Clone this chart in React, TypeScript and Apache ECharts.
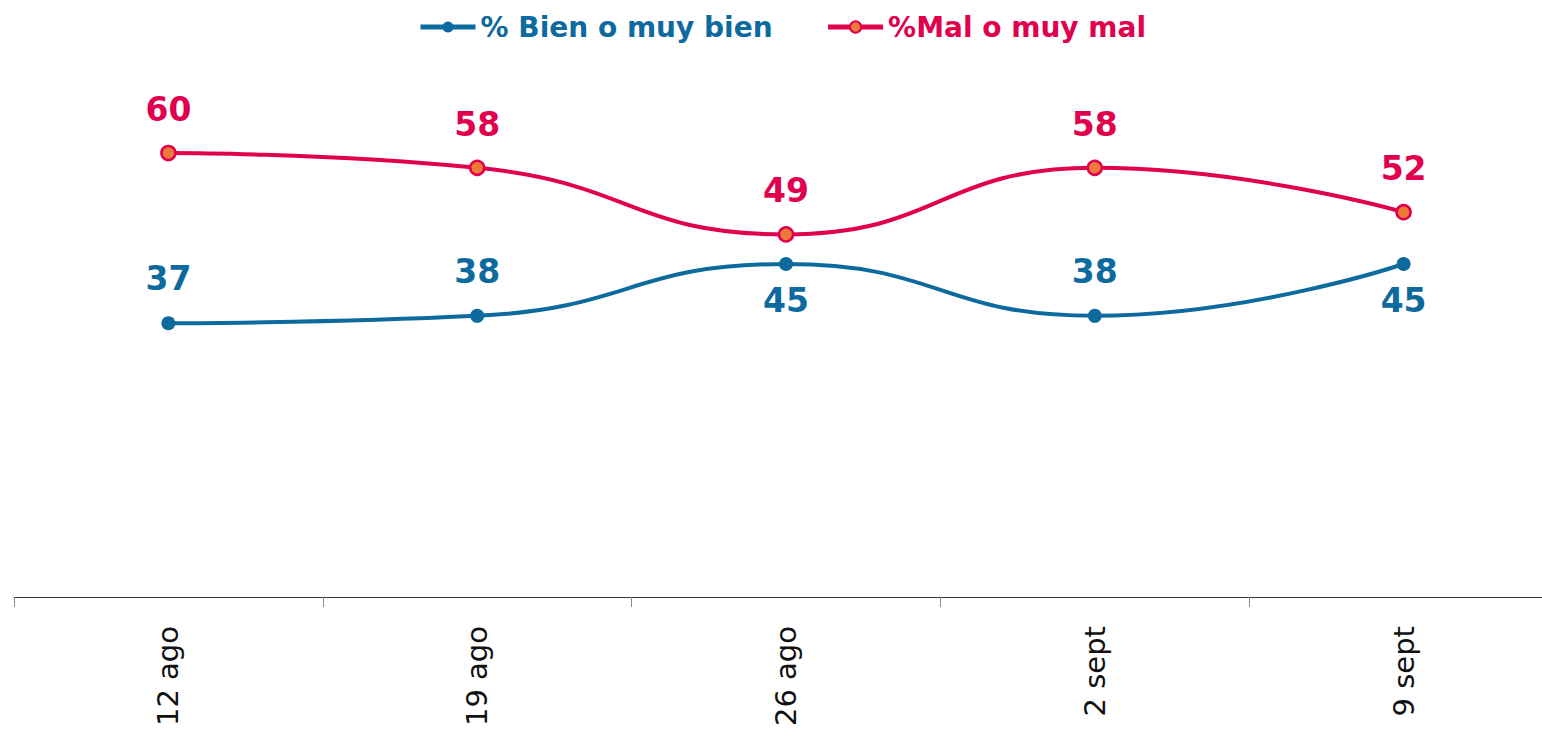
import React, { useEffect, useRef } from "react";
import * as echarts from "echarts";

const categories = ["12 ago", "19 ago", "26 ago", "2 sept", "9 sept"];
const bienValues = [37, 38, 45, 38, 45];
const malValues = [60, 58, 49, 58, 52];
const bienLabelPos = ["top", "top", "bottom", "top", "bottom"];

const BLUE = "#0D6A9E";
const RED = "#E0004D";
const ORANGE = "#EE7A3A";
const FONT = "DejaVu Sans";

export default function App() {
  const ref = useRef<HTMLDivElement>(null);
  useEffect(() => {
    if (!ref.current) return;
    const chart = echarts.init(ref.current, null, { renderer: "svg" });
    chart.setOption({
      animation: false,
      legend: {
        top: 8,
        left: 413,
        itemWidth: 55,
        itemHeight: 14,
        itemGap: 53,
        lineStyle: { width: 5 },
        textStyle: { fontFamily: FONT, fontWeight: "bold", fontSize: 28 },
        data: [
          { name: "% Bien o muy bien", textStyle: { color: BLUE } },
          { name: "%Mal o muy mal", textStyle: { color: RED } },
        ],
      },
      grid: { left: 14, right: 0, top: 79, bottom: 138 },
      xAxis: {
        type: "category",
        data: categories,
        boundaryGap: true,
        axisLine: { lineStyle: { color: "#333", width: 1 } },
        axisTick: { show: true, length: 10, lineStyle: { color: "#888" } },
        axisLabel: {
          rotate: 90,
          fontFamily: FONT,
          fontSize: 29,
          color: "#111",
          margin: 26,
        },
      },
      yAxis: { type: "value", min: -0.4, max: 70, show: false, splitLine: { show: false } },
      series: [
        {
          name: "% Bien o muy bien",
          type: "line",
          smooth: 0.5,
          data: bienValues.map((v, i) => ({
            value: v,
            label: {
              position: bienLabelPos[i],
              distance: bienLabelPos[i] === "top" ? 21 : 13,
            },
          })),
          symbol: "circle",
          symbolSize: 14,
          lineStyle: { color: BLUE, width: 4 },
          itemStyle: { color: BLUE },
          label: {
            show: true,
            fontFamily: FONT,
            fontWeight: "bold",
            fontSize: 33,
            color: BLUE,
          },
        },
        {
          name: "%Mal o muy mal",
          type: "line",
          smooth: 0.5,
          data: malValues,
          symbol: "circle",
          symbolSize: 14,
          lineStyle: { color: RED, width: 4 },
          itemStyle: { color: ORANGE, borderColor: RED, borderWidth: 2.5 },
          label: {
            show: true,
            position: "top",
            fontFamily: FONT,
            fontWeight: "bold",
            fontSize: 33,
            color: RED,
            distance: 19,
          },
        },
      ],
    });
    return () => chart.dispose();
  }, []);
  return (
    <div
      style={{
        position: "absolute",
        left: 0,
        top: 0,
        width: 1542,
        height: 738,
        overflow: "hidden",
      }}
    >
      <div ref={ref} style={{ width: 1558, height: 738 }} />
    </div>
  );
}
